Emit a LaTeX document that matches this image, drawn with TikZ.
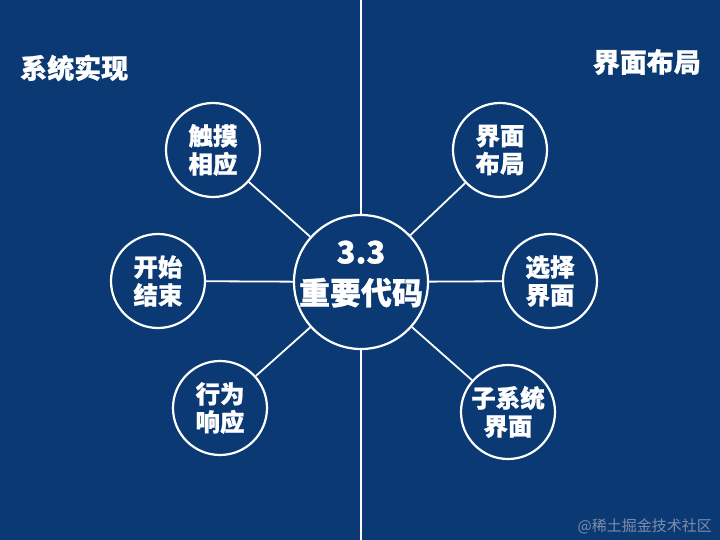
\documentclass[tikz,border=0pt]{standalone}
\usepackage{fontspec}
\setmainfont{Noto Sans CJK SC}[BoldFeatures={FakeBold=0.9}]
\definecolor{bg}{RGB}{11,57,115}
\definecolor{wm}{RGB}{125,143,170}
\begin{document}
\begin{tikzpicture}[x=1pt,y=-1pt,
  small/.style={circle,draw=white,line width=2.2pt,fill=bg,minimum size=94pt,inner sep=0pt,
    text=white,align=center,font=\fontsize{24.5}{28}\selectfont\bfseries},
  big/.style={circle,draw=white,line width=2.2pt,fill=bg,minimum size=134pt,inner sep=0pt},
  bigtext/.style={text=white,align=center,inner sep=0pt,font=\fontsize{31}{41}\selectfont\bfseries},
  title/.style={text=white,font=\fontsize{27}{30}\selectfont\bfseries,inner sep=0pt},
  link/.style={draw=white,line width=1.8pt}]
\fill[bg] (0,0) rectangle (720,540);
\useasboundingbox (0,0) rectangle (720,540);
\coordinate (top) at (361,0);
\coordinate (bot) at (361,540);
\node[big] (c) at (361,282) {};
\node[bigtext] (ct) at (361,274) {3.3\\重要代码};
\node[small] (a1) at (213,150) {触摸\\相应};
\node[small] (a2) at (158,281) {开始\\结束};
\node[small] (a3) at (220,408) {行为\\响应};
\node[small] (b1) at (500,150) {界面\\布局};
\node[small] (b2) at (550,281) {选择\\界面};
\node[small] (b3) at (508,412) {子系统\\界面};
\path[link] (top) -- (c) (c) -- (bot)
  (c) -- (a1) (c) -- (a2) (c) -- (a3)
  (c) -- (b1) (c) -- (b2) (c) -- (b3);
\node[title,anchor=west] (t1) at (20,68) {系统实现};
\node[title,anchor=east] (t2) at (701,62) {界面布局};
\node[text=wm,font=\fontsize{15}{18}\selectfont,anchor=east,inner sep=0pt] (wmk) at (712,526) {@稀土掘金技术社区};
\end{tikzpicture}
\end{document}
